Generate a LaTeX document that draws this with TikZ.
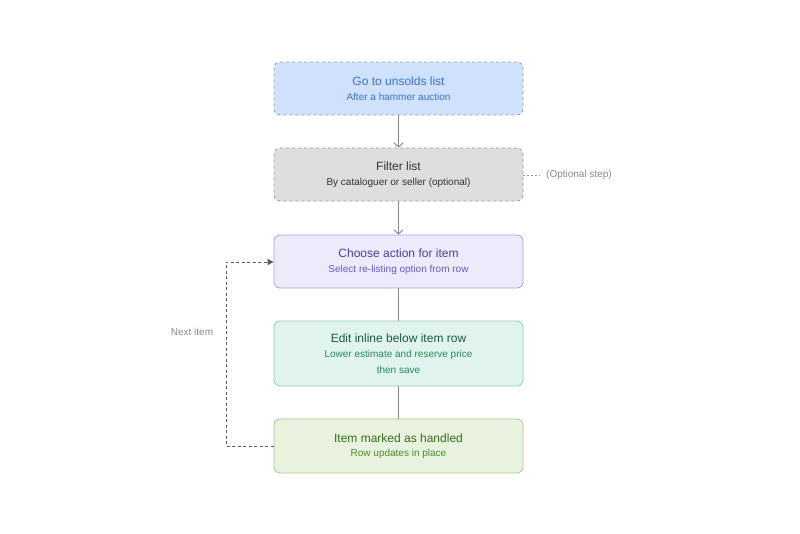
\documentclass[tikz,border=0pt]{standalone}
\usepackage{fontspec}
\setmainfont{Liberation Sans}
\usetikzlibrary{arrows.meta,positioning}
\definecolor{b1fill}{HTML}{D0E2FB}\definecolor{b1txt}{HTML}{3E6FD6}
\definecolor{b2fill}{HTML}{DEDEDE}\definecolor{b2txt}{HTML}{333333}
\definecolor{b3fill}{HTML}{ECEBFC}\definecolor{b3line}{HTML}{A99FE8}\definecolor{b3txt}{HTML}{4B3F9E}\definecolor{b3sub}{HTML}{6A58CF}
\definecolor{b4fill}{HTML}{E0F3EC}\definecolor{b4line}{HTML}{8FCFB1}\definecolor{b4txt}{HTML}{1D5A3E}\definecolor{b4sub}{HTML}{2B8A5A}
\definecolor{b5fill}{HTML}{E8F2DE}\definecolor{b5line}{HTML}{A8C890}\definecolor{b5txt}{HTML}{3A6A1F}\definecolor{b5sub}{HTML}{4D8A2A}
\definecolor{dashgray}{HTML}{999999}
\definecolor{linegray}{HTML}{8A8A8A}
\definecolor{lblgray}{HTML}{888888}
\tikzset{
  box/.style={rounded corners=6pt, minimum width=249pt, align=center, inner sep=0pt, line width=0.8pt},
  conn/.style={draw=linegray, line width=1pt},
  chev/.style={conn, -{Straight Barb[length=4pt,width=9pt]}},
  loop/.style={draw=black!65, line width=1pt, dash pattern=on 3pt off 2.5pt},
  ttl/.style={font=\fontsize{12}{14}\selectfont},
}
\begin{document}
\begin{tikzpicture}[x=1pt,y=1pt]
\useasboundingbox (0,0) rectangle (800,-533);
\node[box, draw=dashgray, dashed, fill=b1fill, minimum height=53pt, text=b1txt] (n1) at (398.5,-88.5)
  {{\fontsize{12}{14}\selectfont Go to unsolds list}\\[2.5pt]{\fontsize{10}{12}\selectfont After a hammer auction}};
\node[box, draw=dashgray, dashed, fill=b2fill, minimum height=53pt, text=b2txt] (n2) at (398.5,-174.5)
  {{\fontsize{12}{14}\selectfont Filter list}\\[2.5pt]{\fontsize{10}{12}\selectfont By cataloguer or seller (optional)}};
\node[box, draw=b3line, fill=b3fill, minimum height=53pt] (n3) at (398.5,-261.5)
  {{\fontsize{12}{14}\selectfont\color{b3txt} Choose action for item}\\[2.5pt]{\fontsize{10}{12}\selectfont\color{b3sub} Select re-listing option from row}};
\node[box, draw=b4line, fill=b4fill, minimum height=65pt] (n4) at (398.5,-353.5)
  {{\fontsize{12}{14}\selectfont\color{b4txt} Edit inline below item row}\\[2.5pt]{\fontsize{10}{12}\selectfont\color{b4sub} Lower estimate and reserve price}\\[4pt]{\fontsize{10}{12}\selectfont\color{b4sub} then save}};
\node[box, draw=b5line, fill=b5fill, minimum height=54pt] (n5) at (398.5,-446)
  {{\fontsize{12}{14}\selectfont\color{b5txt} Item marked as handled}\\[2.5pt]{\fontsize{10}{12}\selectfont\color{b5sub} Row updates in place}};
\draw[chev] (n1) -- (n2);
\draw[chev] (n2) -- (n3);
\draw[conn] (n3) -- (n4);
\draw[conn] (n4) -- (n5);
\coordinate (lb) at (226,-446);
\coordinate (lt) at (226,-262);
\draw[loop, -{Triangle[length=6pt,width=6pt]}] (n5.west |- lb) -- (lb) -- (lt) -- (n3.west |- lt);
\node[text=lblgray, font=\fontsize{10}{12}\selectfont] (next) at (192,-332) {Next item};
\coordinate (oe) at (540,-175);
\draw[draw=dashgray, line width=0.8pt, dash pattern=on 2pt off 2pt] (n2.east |- oe) -- (oe);
\node[text=lblgray, font=\fontsize{10}{12}\selectfont, anchor=west, inner sep=0pt] (opt) at (546,-175) {(Optional step)};
\end{tikzpicture}
\end{document}
